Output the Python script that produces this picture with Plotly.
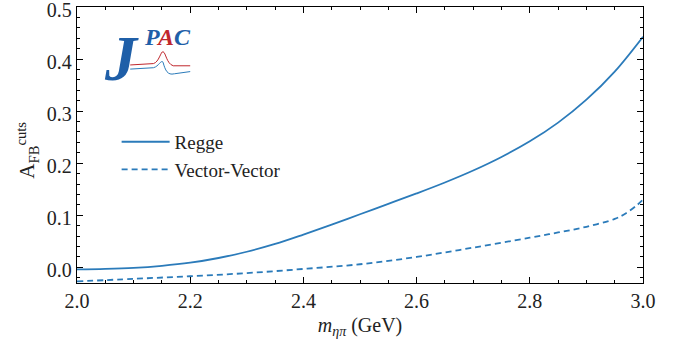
import plotly.graph_objects as go

m_regge = [2.00, 2.05, 2.10, 2.15, 2.20, 2.25, 2.30, 2.35, 2.40, 2.45, 2.50, 2.55, 2.60, 2.65, 2.70, 2.75, 2.80, 2.85, 2.90, 2.95, 3.00]
a_regge = [-0.004, -0.003, -0.001, 0.003, 0.009, 0.018, 0.030, 0.045, 0.063, 0.082, 0.102, 0.122, 0.142, 0.163, 0.186, 0.212, 0.242, 0.278, 0.322, 0.376, 0.443]

m_vv = [2.00, 2.10, 2.20, 2.30, 2.40, 2.50, 2.60, 2.70, 2.80, 2.85, 2.90, 2.95, 2.97, 2.99, 3.00]
a_vv = [-0.027, -0.022, -0.017, -0.011, -0.003, 0.006, 0.020, 0.038, 0.057, 0.067, 0.078, 0.093, 0.104, 0.120, 0.130]

series_names = ["Regge", "Vector-Vector"]
x_ticks = [2.0, 2.2, 2.4, 2.6, 2.8, 3.0]
y_ticks = [0.0, 0.1, 0.2, 0.3, 0.4, 0.5]

blue = "#2b7bba"
FONT = "Liberation Serif, DejaVu Serif, serif"

fig = go.Figure()
fig.add_trace(go.Scatter(x=m_regge, y=a_regge, mode="lines", name=series_names[0],
                         line=dict(color=blue, width=1.8, shape="spline", smoothing=1.0)))
fig.add_trace(go.Scatter(x=m_vv, y=a_vv, mode="lines", name=series_names[1],
                         line=dict(color=blue, width=1.8, dash="6px,4px", shape="spline", smoothing=1.0)))

axis_common = dict(showgrid=False, zeroline=False, showline=True, linecolor="black", linewidth=1.3,
                   mirror="allticks", ticks="inside", ticklen=6, tickwidth=1.1, tickcolor="black",
                   automargin=False, ticklabeloverflow="allow",
                   tickfont=dict(family=FONT, size=20, color="#222"))
fig.update_xaxes(range=[2.0, 3.0], tickvals=x_ticks, ticktext=[f"{v:.1f}" for v in x_ticks],
                 minor=dict(dtick=0.05, tick0=2.0, ticks="inside", ticklen=3, tickwidth=1, tickcolor="black"),
                 title=dict(text="<i>m</i><sub><i>ηπ</i></sub> (GeV)", font=dict(family=FONT, size=20, color="#222"), standoff=6),
                 **axis_common)
fig.update_yaxes(range=[-0.03, 0.5], tickvals=y_ticks, ticktext=[f"{v:.1f}" for v in y_ticks],
                 minor=dict(dtick=0.02, tick0=0.0, ticks="inside", ticklen=3, tickwidth=1, tickcolor="black"),
                 ticklabelshift=3,
                 **axis_common)

# y-axis title as annotation for precise placement
fig.add_annotation(xref="paper", yref="paper", x=-0.088, y=0.48, textangle=-90,
                   text="A<sub>FB</sub><sup>cuts</sup>", showarrow=False,
                   font=dict(family=FONT, size=21, color="#222"), xanchor="center", yanchor="middle")

# JPAC logo (decorative)
fig.add_annotation(xref="paper", yref="paper", x=0.078, y=0.815, text="<b><i>J</i></b>", showarrow=False,
                   font=dict(family=FONT, size=64, color="#1f5fa8"), xanchor="center", yanchor="middle")
fig.add_annotation(xref="paper", yref="paper", x=0.16, y=0.89,
                   text="<i><b><span style='color:#1f5fa8'>P</span><span style='color:#c0272d'>A</span><span style='color:#1f5fa8'>C</span></b></i>",
                   showarrow=False, font=dict(family=FONT, size=24), xanchor="center", yanchor="middle")
fig.add_shape(type="path", xref="paper", yref="paper",
              path="M 0.094 0.79 L 0.135 0.795 C 0.145 0.80 0.148 0.84 0.152 0.838 C 0.157 0.835 0.158 0.795 0.17 0.787 L 0.2 0.787",
              line=dict(color="#c0272d", width=1))
fig.add_shape(type="path", xref="paper", yref="paper",
              path="M 0.094 0.775 L 0.135 0.78 C 0.145 0.785 0.148 0.81 0.152 0.80 C 0.156 0.77 0.16 0.752 0.172 0.758 L 0.2 0.766",
              line=dict(color="#2b7bba", width=1))

fig.update_layout(width=682, height=356, margin=dict(l=77, r=39, t=7, b=73),
                  paper_bgcolor="white", plot_bgcolor="white",
                  font=dict(family=FONT, color="#222"),
                  legend=dict(x=0.07, y=0.58, xanchor="left", yanchor="top", bgcolor="rgba(0,0,0,0)",
                              font=dict(family=FONT, size=19), itemwidth=48, tracegroupgap=0))

fig.write_html("out.html", config={"displayModeBar": False},
               post_script="document.body.style.margin='0px';document.body.style.padding='0px';")
